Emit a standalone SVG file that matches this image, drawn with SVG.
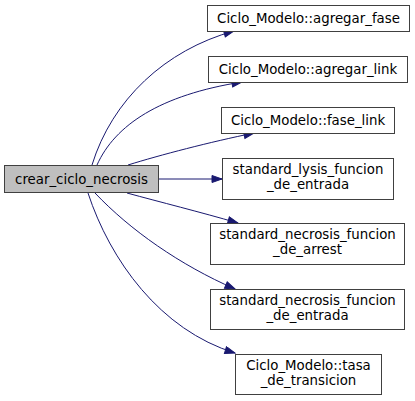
<svg xmlns="http://www.w3.org/2000/svg" width="415" height="401" viewBox="0 0 415 401">
<style>
.n rect{fill:#ffffff;stroke:#404040;stroke-width:1}
.n.sel rect{fill:#bfbfbf}
.n text{font-family:"DejaVu Sans",sans-serif;font-size:13.33px;text-anchor:middle;fill:#000000}
.e path{fill:none;stroke:#191970;stroke-width:1}
</style>
<defs>
<marker id="ah" markerUnits="userSpaceOnUse" markerWidth="12" markerHeight="9" refX="11" refY="4" orient="auto">
<path d="M1,0.5 L11,4 L1,7.5 z" fill="#191970" stroke="#191970" stroke-width="1"/>
</marker>
</defs>
<rect width="415" height="401" fill="#ffffff"/>
<g id="edges" class="e">
<path d="M92,165 C112,100 165,50 234,31" marker-end="url(#ah)"/>
<path d="M97,165 C115,125 160,95 242,82" marker-end="url(#ah)"/>
<path d="M128,165 C160,155 210,142 254,133" marker-end="url(#ah)"/>
<path d="M158,179 L222,179" marker-end="url(#ah)"/>
<path d="M127,193 C160,202 200,212 238,223" marker-end="url(#ah)"/>
<path d="M95,193 C130,230 180,265 235,289" marker-end="url(#ah)"/>
<path d="M88,193 C110,260 160,330 235,353" marker-end="url(#ah)"/>
</g>
<g id="crear_ciclo_necrosis" class="n sel"><rect x="4.5" y="165.5" width="154" height="27"/><text x="81.5" y="183.5">crear_ciclo_necrosis</text></g>
<g id="agregar_fase" class="n"><rect x="207.5" y="5.5" width="202" height="26"/><text x="308.5" y="23">Ciclo_Modelo::agregar_fase</text></g>
<g id="agregar_link" class="n"><rect x="208.5" y="56.5" width="199" height="26"/><text x="308" y="74">Ciclo_Modelo::agregar_link</text></g>
<g id="fase_link" class="n"><rect x="221.5" y="107.5" width="173" height="26"/><text x="308" y="125">Ciclo_Modelo::fase_link</text></g>
<g id="lysis_entrada" class="n"><rect x="222.5" y="158.5" width="171" height="41"/><text x="308" y="174">standard_lysis_funcion</text><text x="308" y="189">_de_entrada</text></g>
<g id="necrosis_arrest" class="n"><rect x="210.5" y="223.5" width="194" height="41"/><text x="307.5" y="239">standard_necrosis_funcion</text><text x="307.5" y="254">_de_arrest</text></g>
<g id="necrosis_entrada" class="n"><rect x="210.5" y="289.5" width="194" height="40"/><text x="307.5" y="305">standard_necrosis_funcion</text><text x="307.5" y="320">_de_entrada</text></g>
<g id="tasa_de_transicion" class="n"><rect x="235.5" y="354.5" width="146" height="40"/><text x="308.5" y="370">Ciclo_Modelo::tasa</text><text x="308.5" y="385">_de_transicion</text></g>
</svg>
